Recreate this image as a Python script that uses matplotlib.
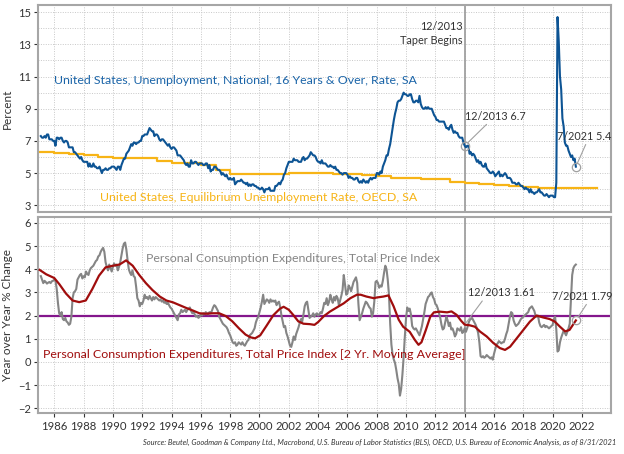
import numpy as np
import matplotlib
matplotlib.use("Agg")
import matplotlib.pyplot as plt

plt.rcParams['font.family'] = ['Lato', 'DejaVu Sans']

# ---------------- data ----------------
unrate_by_year = {
    1985: [7.3, 7.2, 7.2, 7.3, 7.2, 7.4, 7.4, 7.1, 7.1, 7.1, 7.0, 7.0],
    1986: [6.7, 7.2, 7.2, 7.1, 7.2, 7.2, 7.0, 6.9, 7.0, 7.0, 6.9, 6.6],
    1987: [6.6, 6.6, 6.6, 6.3, 6.3, 6.2, 6.1, 6.0, 5.9, 6.0, 5.8, 5.7],
    1988: [5.7, 5.7, 5.7, 5.4, 5.6, 5.4, 5.4, 5.6, 5.4, 5.4, 5.3, 5.3],
    1989: [5.4, 5.2, 5.0, 5.2, 5.2, 5.3, 5.2, 5.2, 5.3, 5.3, 5.4, 5.4],
    1990: [5.4, 5.3, 5.2, 5.4, 5.4, 5.2, 5.5, 5.7, 5.9, 5.9, 6.2, 6.3],
    1991: [6.4, 6.6, 6.8, 6.7, 6.9, 6.9, 6.8, 6.9, 6.9, 7.0, 7.0, 7.3],
    1992: [7.3, 7.4, 7.4, 7.4, 7.6, 7.8, 7.7, 7.6, 7.6, 7.3, 7.4, 7.4],
    1993: [7.3, 7.1, 7.0, 7.1, 7.1, 7.0, 6.9, 6.8, 6.7, 6.8, 6.6, 6.5],
    1994: [6.6, 6.6, 6.5, 6.4, 6.1, 6.1, 6.1, 6.0, 5.9, 5.8, 5.6, 5.5],
    1995: [5.6, 5.4, 5.4, 5.8, 5.6, 5.6, 5.7, 5.7, 5.6, 5.5, 5.6, 5.6],
    1996: [5.6, 5.5, 5.5, 5.6, 5.6, 5.3, 5.5, 5.1, 5.2, 5.2, 5.4, 5.4],
    1997: [5.3, 5.2, 5.2, 5.1, 4.9, 5.0, 4.9, 4.8, 4.9, 4.7, 4.6, 4.7],
    1998: [4.6, 4.6, 4.7, 4.3, 4.4, 4.5, 4.5, 4.5, 4.6, 4.5, 4.4, 4.4],
    1999: [4.3, 4.4, 4.2, 4.3, 4.2, 4.3, 4.3, 4.2, 4.2, 4.1, 4.1, 4.0],
    2000: [4.0, 4.1, 4.0, 3.8, 4.0, 4.0, 4.0, 4.1, 3.9, 3.9, 3.9, 3.9],
    2001: [4.2, 4.2, 4.3, 4.4, 4.3, 4.5, 4.6, 4.9, 5.0, 5.3, 5.5, 5.7],
    2002: [5.7, 5.7, 5.7, 5.9, 5.8, 5.8, 5.8, 5.7, 5.7, 5.7, 5.9, 6.0],
    2003: [5.8, 5.9, 5.9, 6.0, 6.1, 6.3, 6.2, 6.1, 6.1, 6.0, 5.8, 5.7],
    2004: [5.7, 5.6, 5.8, 5.6, 5.6, 5.6, 5.5, 5.4, 5.4, 5.5, 5.4, 5.4],
    2005: [5.3, 5.4, 5.2, 5.2, 5.1, 5.0, 5.0, 4.9, 5.0, 5.0, 5.0, 4.9],
    2006: [4.7, 4.8, 4.7, 4.7, 4.6, 4.6, 4.7, 4.7, 4.5, 4.4, 4.5, 4.4],
    2007: [4.6, 4.5, 4.4, 4.5, 4.4, 4.6, 4.7, 4.6, 4.7, 4.7, 4.7, 5.0],
    2008: [5.0, 4.9, 5.1, 5.0, 5.4, 5.6, 5.8, 6.1, 6.1, 6.5, 6.8, 7.3],
    2009: [7.8, 8.3, 8.7, 9.0, 9.4, 9.5, 9.5, 9.6, 9.8, 10.0, 9.9, 9.9],
    2010: [9.8, 9.8, 9.9, 9.9, 9.6, 9.4, 9.4, 9.5, 9.5, 9.4, 9.8, 9.3],
    2011: [9.1, 9.0, 9.0, 9.1, 9.0, 9.1, 9.0, 9.0, 9.0, 8.8, 8.6, 8.5],
    2012: [8.3, 8.3, 8.2, 8.2, 8.2, 8.2, 8.2, 8.0, 7.8, 7.8, 7.7, 7.9],
    2013: [8.0, 7.7, 7.5, 7.6, 7.5, 7.5, 7.3, 7.2, 7.2, 7.2, 6.9, 6.7],
    2014: [6.6, 6.7, 6.7, 6.2, 6.3, 6.1, 6.2, 6.1, 5.9, 5.7, 5.8, 5.6],
    2015: [5.7, 5.5, 5.4, 5.4, 5.6, 5.3, 5.2, 5.1, 5.0, 5.0, 5.1, 5.0],
    2016: [4.8, 4.9, 5.0, 5.1, 4.8, 4.9, 4.8, 4.9, 5.0, 4.9, 4.7, 4.7],
    2017: [4.7, 4.6, 4.4, 4.4, 4.4, 4.3, 4.3, 4.4, 4.3, 4.2, 4.2, 4.1],
    2018: [4.0, 4.1, 4.0, 4.0, 3.8, 4.0, 3.8, 3.8, 3.7, 3.8, 3.8, 3.9],
    2019: [4.0, 3.8, 3.8, 3.7, 3.6, 3.6, 3.7, 3.6, 3.5, 3.6, 3.6, 3.6],
    2020: [3.5, 3.5, 4.4, 14.7, 13.2, 11.0, 10.2, 8.4, 7.9, 6.9, 6.7, 6.7],
    2021: [6.4, 6.2, 6.0, 6.1, 5.8, 5.9, 5.4],
}

nairu_years = list(range(1985, 2023))
nairu_values = [6.30, 6.28, 6.21, 6.12, 6.03, 5.96, 5.94, 5.92, 5.78, 5.62,
                5.60, 5.50, 5.20, 4.96, 4.93, 4.93, 4.94, 4.98, 4.99, 4.99,
                4.96, 4.95, 4.90, 4.80, 4.72, 4.68, 4.66, 4.62, 4.42, 4.38,
                4.32, 4.26, 4.20, 4.14, 4.10, 4.07, 4.06, 4.05]

pce_by_year = {
    1985: [3.70, 3.55, 3.40, 3.50, 3.45, 3.38, 3.42, 3.45, 3.40, 3.48, 3.50, 3.55],
    1986: [3.50, 3.15, 2.55, 2.10, 2.00, 2.15, 1.85, 1.80, 1.90, 1.75, 1.70, 1.60],
    1987: [1.65, 1.95, 2.75, 3.00, 3.05, 3.15, 3.55, 3.65, 3.75, 3.80, 3.60, 3.70],
    1988: [3.65, 3.90, 3.80, 3.75, 3.95, 4.05, 4.10, 4.15, 4.25, 4.35, 4.40, 4.55],
    1989: [4.60, 4.75, 4.85, 4.92, 4.75, 4.30, 4.10, 3.95, 4.20, 4.05, 3.90, 4.10],
    1990: [4.25, 4.15, 4.20, 3.95, 4.10, 4.30, 4.60, 4.90, 5.10, 5.15, 4.85, 4.40],
    1991: [4.00, 3.85, 3.75, 3.95, 3.70, 3.65, 3.25, 2.75, 2.65, 2.40, 2.55, 2.50],
    1992: [2.65, 2.90, 2.75, 2.80, 2.70, 2.85, 2.75, 2.65, 2.80, 2.70, 2.80, 2.75],
    1993: [2.70, 2.65, 2.70, 2.60, 2.65, 2.55, 2.60, 2.50, 2.55, 2.45, 2.35, 2.30],
    1994: [2.20, 2.10, 2.00, 1.90, 1.80, 2.05, 2.10, 2.25, 2.15, 2.20, 2.25, 2.15],
    1995: [2.25, 2.30, 2.35, 2.20, 2.10, 2.15, 2.05, 1.95, 2.00, 1.90, 1.95, 2.05],
    1996: [2.00, 2.10, 2.05, 2.15, 2.10, 2.05, 2.15, 2.10, 2.20, 2.35, 2.45, 2.40],
    1997: [2.30, 2.20, 1.95, 1.85, 1.75, 1.65, 1.60, 1.55, 1.50, 1.40, 1.25, 1.15],
    1998: [1.00, 0.85, 0.80, 0.85, 0.70, 0.75, 0.85, 0.80, 0.75, 0.85, 0.75, 0.70],
    1999: [0.80, 0.90, 0.95, 1.15, 1.20, 1.25, 1.35, 1.45, 1.70, 1.85, 1.95, 2.15],
    2000: [2.35, 2.60, 2.90, 2.50, 2.60, 2.70, 2.65, 2.55, 2.70, 2.60, 2.65, 2.60],
    2001: [2.65, 2.45, 2.55, 2.60, 2.35, 2.00, 1.75, 1.50, 1.55, 1.25, 1.10, 0.90],
    2002: [0.70, 0.65, 0.85, 1.10, 0.95, 1.20, 1.35, 1.50, 1.70, 1.85, 1.75, 2.05],
    2003: [2.40, 2.55, 2.60, 2.25, 1.90, 1.95, 2.00, 2.10, 1.95, 2.05, 2.10, 2.00],
    2004: [2.05, 2.15, 2.10, 2.30, 2.55, 2.50, 2.75, 2.45, 2.60, 2.90, 2.70, 2.55],
    2005: [2.80, 2.65, 2.85, 2.75, 2.45, 2.65, 2.85, 3.10, 3.75, 3.35, 2.90, 2.95],
    2006: [3.30, 3.20, 3.05, 3.25, 3.45, 3.55, 3.65, 3.40, 2.50, 1.80, 1.95, 2.10],
    2007: [2.30, 2.45, 2.60, 2.55, 2.45, 2.35, 2.30, 1.95, 2.10, 2.60, 3.45, 3.50],
    2008: [3.40, 3.20, 3.30, 3.25, 3.50, 3.85, 4.15, 4.00, 3.55, 2.90, 1.65, 0.75],
    2009: [0.30, 0.10, -0.05, -0.35, -0.70, -0.95, -1.45, -1.15, -0.55, 0.20, 1.10, 1.90],
    2010: [2.35, 2.20, 2.30, 2.05, 1.55, 1.45, 1.40, 1.45, 1.35, 1.25, 1.15, 1.35],
    2011: [1.55, 1.85, 2.15, 2.50, 2.65, 2.80, 2.85, 2.95, 3.00, 2.80, 2.70, 2.50],
    2012: [2.45, 2.30, 2.10, 1.90, 1.60, 1.40, 1.45, 1.70, 1.95, 1.80, 1.55, 1.70],
    2013: [1.40, 1.45, 1.30, 1.10, 1.20, 1.45, 1.40, 1.35, 1.50, 1.25, 1.30, 1.45],
    2014: [1.30, 1.45, 1.65, 1.80, 1.85, 1.90, 1.80, 1.70, 1.60, 1.45, 1.25, 0.85],
    2015: [0.25, 0.20, 0.25, 0.18, 0.22, 0.30, 0.25, 0.20, 0.15, 0.20, 0.10, 0.35],
    2016: [0.55, 0.75, 0.80, 0.90, 0.85, 0.80, 0.85, 0.85, 1.00, 1.20, 1.35, 1.65],
    2017: [1.95, 2.15, 2.10, 1.80, 1.65, 1.55, 1.60, 1.65, 1.75, 1.85, 1.90, 1.95],
    2018: [2.00, 2.05, 2.10, 2.15, 2.30, 2.35, 2.40, 2.30, 2.20, 2.00, 1.95, 2.00],
    2019: [1.70, 1.55, 1.50, 1.55, 1.60, 1.50, 1.55, 1.50, 1.45, 1.50, 1.55, 1.60],
    2020: [1.85, 1.95, 1.40, 0.45, 0.50, 0.85, 1.05, 1.20, 1.35, 1.25, 1.15, 1.30],
    2021: [1.45, 1.65, 2.70, 3.75, 4.05, 4.15, 4.20],
}

pce_ma_dates = [1985.0, 1985.45, 1986.0, 1986.35, 1986.8, 1987.25, 1987.7, 1988.15, 1988.6,
                1989.05, 1989.5, 1990.0, 1990.45, 1990.9, 1991.35, 1991.8, 1992.25, 1992.7,
                1993.2, 1993.65, 1994.1, 1994.55, 1995.0, 1995.45, 1995.9, 1996.35, 1996.8,
                1997.25, 1997.7, 1998.15, 1998.6, 1999.05, 1999.4, 1999.7, 2000.05, 2000.5,
                2000.95, 2001.4, 2001.65, 2002.0, 2002.3, 2002.65, 2003.0, 2003.45, 2003.75,
                2004.0, 2004.4, 2004.8, 2005.3, 2005.75, 2006.2, 2006.65, 2006.9, 2007.3,
                2007.8, 2008.0, 2008.45, 2008.8, 2009.15, 2009.5, 2009.8, 2010.25, 2010.6,
                2010.85, 2011.05, 2011.35, 2011.65, 2011.9, 2012.3, 2012.8, 2013.1, 2013.45,
                2013.75, 2014.0, 2014.35, 2014.7, 2015.05, 2015.5, 2015.95, 2016.4, 2016.75,
                2017.1, 2017.55, 2018.0, 2018.45, 2018.9, 2019.35, 2019.8, 2020.15, 2020.5,
                2020.85, 2021.15, 2021.583]
pce_ma_values = [3.97, 3.78, 3.62, 3.35, 2.95, 2.65, 2.58, 2.65, 3.15,
                 3.72, 4.08, 4.15, 4.20, 4.38, 4.15, 3.75, 3.40, 3.10,
                 2.82, 2.65, 2.57, 2.45, 2.33, 2.22, 2.10, 2.08, 2.10,
                 2.10, 1.98, 1.75, 1.45, 1.18, 1.06, 1.02, 1.15, 1.58,
                 2.02, 2.30, 2.38, 2.25, 2.03, 1.75, 1.65, 1.63, 1.60,
                 1.72, 1.98, 2.17, 2.36, 2.53, 2.75, 2.90, 2.90, 2.82,
                 2.75, 2.78, 2.82, 2.87, 2.40, 1.82, 1.52, 1.30, 0.95,
                 0.74, 0.85, 1.38, 1.95, 2.14, 2.17, 2.14, 2.18, 2.03,
                 1.78, 1.61, 1.58, 1.52, 1.31, 1.10, 0.82, 0.60, 0.52,
                 0.66, 1.02, 1.38, 1.74, 2.00, 1.92, 1.85, 1.74, 1.52,
                 1.32, 1.38, 1.79]

target_rate = 2.0
taper_date = 2014.0
x_ticks = list(range(1986, 2023, 2))

# --------------- helpers ---------------
def monthly(series):
    xs, ys = [], []
    for yr in sorted(series):
        for m, v in enumerate(series[yr], start=1):
            xs.append(yr + m / 12.0)
            ys.append(v)
    return np.array(xs), np.array(ys)

u_x, u_y = monthly(unrate_by_year)
p_x, p_y = monthly(pce_by_year)
n_x = nairu_years + [nairu_years[-1] + 1]
n_y = nairu_values + [nairu_values[-1]]

BLUE = '#0D5494'
BLUE_T = '#1A64A8'
YEL = '#F7B416'
GRAY = '#858585'
RED = '#A00D0D'
PURP = '#84168C'
FRAME = '#A6A6A6'
LBL = 8.9

fig = plt.figure(figsize=(6.24, 4.54), dpi=100)
ax1 = fig.add_axes([0.0609, 0.533, 0.918, 0.456])
ax2 = fig.add_axes([0.0609, 0.0903, 0.918, 0.4317])

xlim = (1984.89, 2023.97)
for ax in (ax1, ax2):
    ax.set_xlim(*xlim)
    ax.set_xticks(x_ticks)
    for s in ax.spines.values():
        s.set_color(FRAME)
        s.set_linewidth(1.5)
    ax.grid(True, which='both', color='#C8C8C8', linestyle=(0, (1, 1.5)), linewidth=0.7)
    ax.set_axisbelow(True)
    ax.tick_params(axis='both', labelsize=8, colors='#333333', length=3, width=0.8, pad=2)
    ax.tick_params(axis='both', which='minor', length=0)
    ax.axvline(taper_date, color='#A0A0A0', linewidth=1.3, zorder=1.5)

# ---- top panel ----
ax1.set_ylim(2.58, 15.45)
ax1.set_yticks([3, 5, 7, 9, 11, 13, 15])
ax1.set_yticks(range(3, 16), minor=True)
ax1.tick_params(axis='x', labelbottom=False, length=0)
ax1.step(n_x, n_y, where='post', color=YEL, linewidth=1.6, zorder=2)
ax1.plot(u_x, u_y, color=BLUE, linewidth=1.5, zorder=3)
ax1.set_ylabel('Percent', fontsize=8.5, color='#333333', labelpad=4)

ax1.text(1986.0, 10.73, 'United States, Unemployment, National, 16 Years & Over, Rate, SA',
         color=BLUE_T, fontsize=LBL, va='center', ha='left')
ax1.text(1989.12, 3.51, 'United States, Equilibrium Unemployment Rate, OECD, SA',
         color=YEL, fontsize=LBL, va='center', ha='left')
ax1.text(2013.85, 14.09, '12/2013', fontsize=7.8, ha='right', va='center', color='#333333')
ax1.text(2013.85, 13.22, 'Taper Begins', fontsize=7.8, ha='right', va='center', color='#333333')

u_dec13 = unrate_by_year[2013][11]
u_jul21 = unrate_by_year[2021][6]
ax1.plot([taper_date], [u_dec13], 'o', ms=6, mfc='none', mec='#A0A0A0', mew=0.9, zorder=4)
ax1.annotate(f'12/2013 {u_dec13}', xy=(taper_date, u_dec13), xytext=(2014.0, 8.2),
             fontsize=7.8, color='#333333', ha='left', va='bottom',
             arrowprops=dict(arrowstyle='-', color='#A0A0A0', lw=0.8, shrinkA=0, shrinkB=3))
ax1.plot([2021 + 7 / 12], [u_jul21], 'o', ms=6, mfc='none', mec='#A0A0A0', mew=0.9, zorder=4)
ax1.annotate(f'7/2021 {u_jul21}', xy=(2021 + 7 / 12, u_jul21), xytext=(2020.3, 6.95),
             fontsize=7.8, color='#333333', ha='left', va='bottom',
             arrowprops=dict(arrowstyle='-', color='#A0A0A0', lw=0.8, shrinkA=0, shrinkB=3,
                             relpos=(0.55, 0.0)))

# ---- bottom panel ----
ax2.set_ylim(-2.2, 6.25)
ax2.set_yticks(range(-2, 7))
ax2.tick_params(axis='x', labelsize=8.2, pad=3)
ax2.axhline(target_rate, color=PURP, linewidth=1.6, zorder=2)
ax2.plot(p_x, p_y, color=GRAY, linewidth=1.5, zorder=3)
ax2.plot(pce_ma_dates, pce_ma_values, color=RED, linewidth=1.6, zorder=4)
ax2.set_ylabel('Year over Year % Change', fontsize=8.5, color='#333333', labelpad=4)

ax2.text(1992.25, 4.48, 'Personal Consumption Expenditures, Total Price Index',
         color=GRAY, fontsize=LBL, va='center', ha='left')
ax2.text(1985.23, 0.33, 'Personal Consumption Expenditures, Total Price Index [2 Yr. Moving Average]',
         color=RED, fontsize=LBL, va='center', ha='left')

ma_dec13 = 1.61
ma_jul21 = 1.79
ax2.annotate(f'12/2013 {ma_dec13}', xy=(taper_date, ma_dec13), xytext=(2014.2, 2.75),
             fontsize=7.8, color='#333333', ha='left', va='bottom',
             arrowprops=dict(arrowstyle='-', color='#A0A0A0', lw=0.8, shrinkA=0, shrinkB=2,
                             relpos=(0.25, 0.0)))
ax2.plot([2021 + 7 / 12], [ma_jul21], 'o', ms=6, mfc='none', mec='#A0A0A0', mew=0.9, zorder=5)
ax2.annotate(f'7/2021 {ma_jul21}', xy=(2021 + 7 / 12, ma_jul21), xytext=(2019.95, 2.6),
             fontsize=7.8, color='#333333', ha='left', va='bottom',
             arrowprops=dict(arrowstyle='-', color='#A0A0A0', lw=0.8, shrinkA=0, shrinkB=3,
                             relpos=(0.6, 0.0)))

fig.text(0.988, 0.025,
         'Source: Beutel, Goodman & Company Ltd., Macrobond, U.S. Bureau of Labor Statistics (BLS), OECD, '
         'U.S. Bureau of Economic Analysis, as of 8/31/2021',
         fontsize=5.4, style='italic', ha='right', va='center', color='#333333')

fig.savefig('out.png', dpi=100)
